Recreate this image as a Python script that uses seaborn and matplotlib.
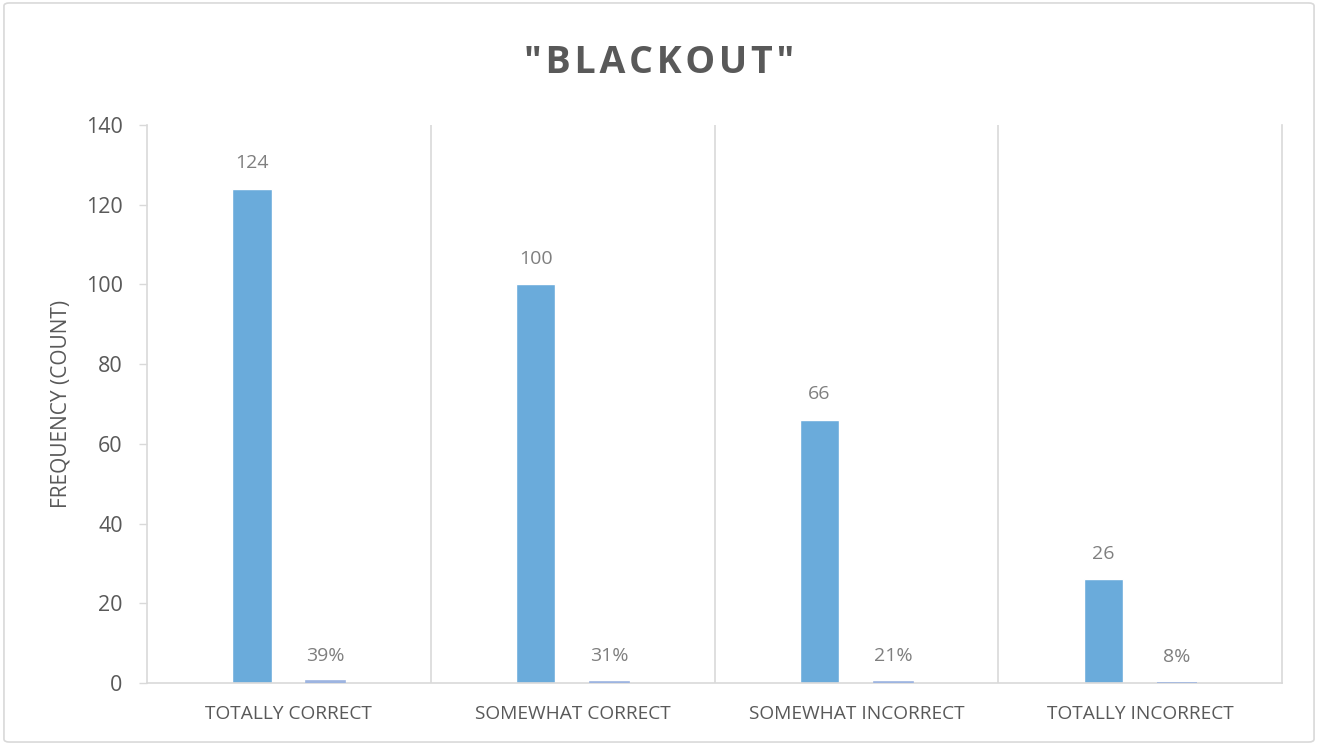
import matplotlib
matplotlib.use("Agg")
import matplotlib.pyplot as plt
import seaborn as sns
import pandas as pd
from matplotlib.patches import FancyBboxPatch

categories = ["TOTALLY CORRECT", "SOMEWHAT CORRECT", "SOMEWHAT INCORRECT", "TOTALLY INCORRECT"]
counts = [124, 100, 66, 26]
percents = [0.39, 0.31, 0.21, 0.08]
yticks = [0, 20, 40, 60, 80, 100, 120, 140]
title = '"BLACKOUT"'

sns.set_theme(style="white")
plt.rcParams['font.family'] = ['Open Sans', 'DejaVu Sans']

df = pd.DataFrame({
    "category": categories * 2,
    "series": ["Count"] * 4 + ["Percent"] * 4,
    "value": counts + percents,
})

fig = plt.figure(figsize=(13.18, 7.45), dpi=100)
ax = fig.add_axes([147/1318, 1 - 683/745, (1282 - 147)/1318, (683 - 125)/745])

sns.barplot(data=df, x="category", y="value", hue="series", order=categories,
            hue_order=["Count", "Percent"], palette=["#6AABDB", "#9DB4E0"],
            width=0.52, gap=0.47, ax=ax, legend=False, saturation=1)
for patch in ax.containers[1]:
    patch.set_edgecolor("#9DB4E0")
    patch.set_linewidth(1.2)
    patch.set_zorder(5)

ax.bar_label(ax.containers[0], labels=[str(v) for v in counts], padding=12,
             color="#7F7F7F", fontsize=14)
ax.bar_label(ax.containers[1], labels=[f"{round(p*100)}%" for p in percents], padding=12,
             color="#7F7F7F", fontsize=14)

ax.set_ylim(0, 140)
ax.set_xlim(-0.5, 3.5)
ax.set_yticks(yticks)
ax.set_yticklabels([str(t) for t in yticks], fontsize=15.5, color="#595959")
ax.tick_params(axis="y", length=6, width=1, color="#D9D9D9", pad=11.5, left=True)
ax.tick_params(axis="x", length=0, pad=16, labelsize=13.8, labelcolor="#595959")
ax.set_xlabel("")
ax.set_ylabel("FREQUENCY (COUNT)", fontsize=15, color="#595959", labelpad=10)

for x in [0.5, 1.5, 2.5]:
    ax.axvline(x, color="#D9D9D9", lw=1.2, zorder=0)
ax.spines["top"].set_visible(False)
for side in ["left", "right", "bottom"]:
    ax.spines[side].set_visible(True)
    ax.spines[side].set_color("#D9D9D9")
    ax.spines[side].set_linewidth(1.2)

spaced = "\u200a".join(title)
fig.text(0.5, 1 - 63/745, spaced, ha="center", va="center", fontsize=27,
         fontweight="bold", color="#595959")

border = FancyBboxPatch((0.003, 0.004), 0.994, 0.992, boxstyle="round,pad=0,rounding_size=0.004",
                        transform=fig.transFigure, fill=False, edgecolor="#D9D9D9", lw=1.2)
fig.patches.append(border)

fig.savefig("out.png", dpi=100)
